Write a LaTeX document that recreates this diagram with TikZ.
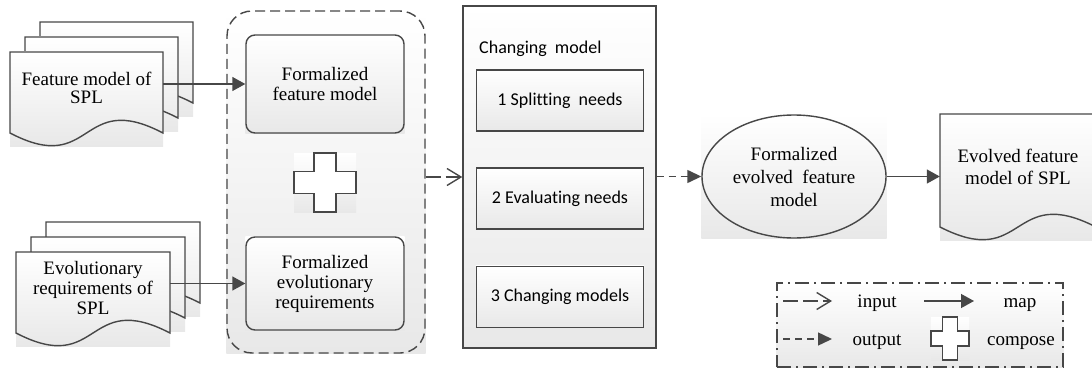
\documentclass[tikz,border=0pt]{standalone}
\usepackage{fontspec}
\setmainfont{Liberation Serif}
\newfontfamily\calibrifont[Ligatures=NoCommon]{Carlito}
\usetikzlibrary{arrows.meta,shapes.geometric,backgrounds}

\tikzset{
  ln/.style={draw=black!72,line width=1.4pt},
  shd/.style={top color=white,bottom color=black!9},
  frm/.style={ln,rounded corners=9pt,minimum width=158pt,inner sep=0pt,align=center},
  stepbox/.style={ln,minimum width=167pt,minimum height=61pt,inner sep=0pt,font=\calibrifont\fontsize{18}{20}\selectfont},
  doc/.style={minimum width=153pt,inner sep=0pt,align=center},
  maparrow/.style={ln,-{Triangle[length=13pt,width=14pt]}},
  inarrow/.style={ln,dash pattern=on 15pt off 5pt,-{Straight Barb[length=14pt,width=17pt]}},
  outarrow/.style={ln,dash pattern=on 7pt off 5pt,-{Triangle[length=14pt,width=13pt]}},
}

% page with a wavy bottom: x, y (top left), width, height
\newcommand\docpage[4]{%
  \shade[shd] (#1,#2) rectangle (#1+#3,#2+#4+13);
  \draw[ln] (#1,#2+#4) -- (#1,#2) -- (#1+#3,#2) -- (#1+#3,#2+#4)
    .. controls (#1+0.45*#3,#2+#4-44) and (#1+0.55*#3,#2+#4+44) .. (#1,#2+#4) -- cycle;
}
% plus sign: cx, cy, half width, half height, half arm
\newcommand\plusmark[5]{%
  \shade[shd] (#1-#3,#2-#4) rectangle (#1+#3,#2+#4);
  \draw[ln,fill=white] (#1-#5,#2-#4) -- (#1+#5,#2-#4) -- (#1+#5,#2-#5) -- (#1+#3,#2-#5)
    -- (#1+#3,#2+#5) -- (#1+#5,#2+#5) -- (#1+#5,#2+#4) -- (#1-#5,#2+#4)
    -- (#1-#5,#2+#5) -- (#1-#3,#2+#5) -- (#1-#3,#2-#5) -- (#1-#5,#2-#5) -- cycle;
}

\begin{document}
\begin{tikzpicture}[x=1pt,y=-1pt,font=\fontsize{19}{20}\selectfont]
\useasboundingbox (0,0) rectangle (1092,369);

\docpage{40}{22}{153}{81}
\docpage{25}{37}{153}{81}
\docpage{10}{52}{153}{81}
\node[doc,font=\fontsize{19}{18}\selectfont] (fm) at (86.5,88) {Feature model of\\SPL};

\docpage{46}{222}{154}{81}
\docpage{31}{237}{154}{81}
\docpage{16}{252}{154}{81}
\node[doc,minimum width=154pt] (er) at (93,288) {Evolutionary\\requirements of\\SPL};

\node[ln,dash pattern=on 10pt off 5pt,rounded corners=25pt,minimum width=198pt,minimum height=342pt] (grp) at (326,182) {};
\node[frm,minimum height=98pt] (ffm) at (325,84) {Formalized\\feature model};
\node[frm,minimum height=93pt] (fer) at (325,283.5) {Formalized\\evolutionary\\requirements};
\plusmark{325}{182.5}{31}{29.5}{11}

\node[ln,minimum width=193pt,minimum height=342pt] (chg) at (559.5,177) {};
\node[anchor=base west,inner sep=0pt,font=\calibrifont\fontsize{18}{20}\selectfont] (chgt) at (479,53) {Changing\ \ model};
\node[stepbox] (s1) at (560,100.5) {1 Splitting\ \ needs};
\node[stepbox] (s2) at (560,198.5) {2 Evaluating needs};
\node[stepbox] (s3) at (560,297) {3 Changing models};

\node[ln,ellipse,minimum width=184pt,minimum height=123pt,inner sep=0pt,align=center,font=\fontsize{19}{23}\selectfont] (fem) at (794,176.5) {Formalized\\evolved\ \ feature\\model};

\docpage{940}{114}{156}{113}
\node[doc,minimum width=156pt,font=\fontsize{19}{22}\selectfont] (efm) at (1018,167) {Evolved feature\\model of SPL};

\draw[maparrow] (fm.east |- ffm.west) -- (ffm.west);
\draw[maparrow] (er.east |- fer.west) -- (fer.west);
\draw[inarrow] (grp.east |- chg.west) -- (chg.west);
\draw[outarrow] (chg.east |- fem.west) -- (fem.west);
\draw[maparrow] (fem.east) -- (fem.east -| efm.west);

% legend
\node[ln,dash pattern=on 14pt off 5pt on 2pt off 5pt,minimum width=286pt,minimum height=84pt] (lgd) at (920,325) {};
\coordinate (li1) at (783,301);
\coordinate (li2) at (832,301);
\coordinate (lm1) at (924,301);
\coordinate (lm2) at (974,301);
\coordinate (lo1) at (783,339);
\coordinate (lo2) at (832,339);
\draw[inarrow] (li1) -- (li2);
\draw[maparrow] (lm1) -- (lm2);
\draw[outarrow] (lo1) -- (lo2);
\node[anchor=base] (tin) at (877,307) {input};
\node[anchor=base] (tmap) at (1020,307) {map};
\node[anchor=base] (tout) at (877,345) {output};
\plusmark{950}{338.5}{19}{21.5}{7.5}
\node[anchor=base] (tcmp) at (1021,345) {compose};

\begin{pgfonlayer}{background}
\foreach \n in {grp,ffm,fer,chg,s1,s2,s3,fem,lgd}
  \shade[shd] (\n.west |- \n.south) rectangle (\n.east |- \n.north);
\end{pgfonlayer}
\end{tikzpicture}
\end{document}
